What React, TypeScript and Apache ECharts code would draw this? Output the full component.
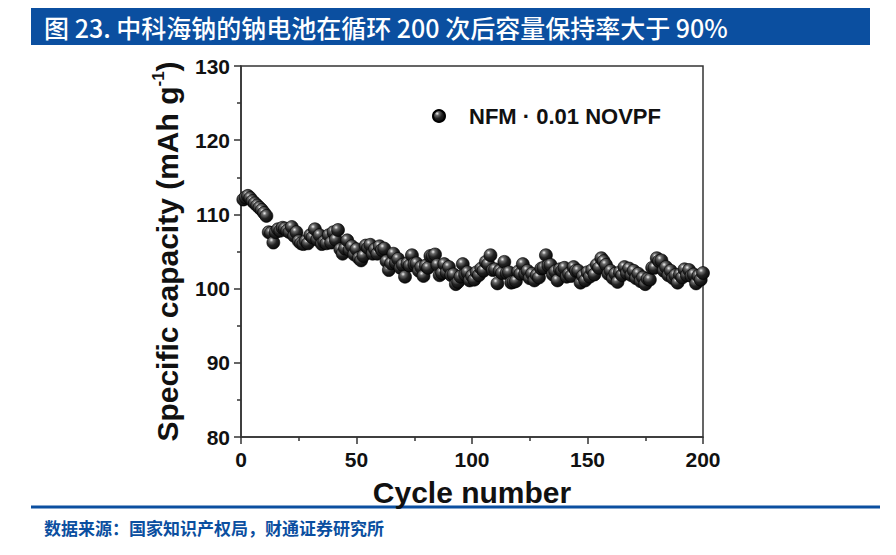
import * as echarts from 'echarts';
import { useEffect, useRef } from 'react';

const titleText = '图 23. 中科海钠的钠电池在循环 200 次后容量保持率大于 90%';
const sourceText = '数据来源：国家知识产权局，财通证券研究所';
const seriesName = 'NFM · 0.01 NOVPF';

// specific capacity (mAh g-1) for cycles 1..200
const capacity = [
  112.0, 112.3, 112.5, 112.2, 111.8, 111.5, 111.2, 110.9, 110.6, 110.2,
  109.8, 107.6, 107.5, 106.2, 107.6, 108.0, 107.8, 108.2, 108.1, 107.8,
  107.6, 108.3, 107.1, 107.6, 106.4, 106.1, 106.0, 106.4, 106.1, 107.2,
  106.9, 108.0, 106.6, 107.2, 106.0, 106.3, 106.1, 107.2, 106.2, 107.6,
  106.6, 107.9, 105.3, 104.7, 105.4, 106.5, 105.2, 105.7, 104.6, 105.3,
  104.1, 103.8, 104.4, 105.8, 105.5, 105.9, 104.7, 105.3, 104.7, 105.7,
  105.2, 105.4, 103.7, 102.5, 103.4, 104.7, 103.5, 104.0, 102.8, 103.2,
  101.6, 103.4, 103.1, 104.5, 103.3, 103.4, 102.4, 102.9, 101.7, 103.1,
  102.8, 104.4, 104.4, 104.6, 103.2, 101.8, 102.1, 103.3, 102.2, 102.9,
  101.8, 101.9, 100.6, 100.9, 101.6, 103.3, 101.9, 102.2, 101.1, 101.7,
  101.2, 102.2, 101.8, 102.7, 102.4, 103.6, 103.3, 104.5, 102.5, 102.6,
  100.7, 102.4, 102.1, 103.6, 102.1, 102.2, 100.8, 100.9, 101.0, 102.3,
  102.0, 103.3, 102.0, 102.4, 101.4, 102.0, 101.1, 101.8, 101.5, 102.7,
  102.8, 104.5, 103.1, 103.2, 101.9, 102.3, 101.1, 102.6, 102.4, 102.8,
  101.6, 102.0, 101.7, 102.9, 102.4, 102.4, 100.8, 101.7, 101.1, 102.2,
  101.6, 102.5, 101.9, 103.2, 102.8, 104.1, 103.7, 103.2, 102.0, 102.4,
  101.4, 102.0, 100.9, 102.2, 101.8, 102.9, 102.1, 102.7, 101.8, 102.4,
  101.4, 102.0, 101.0, 101.5, 100.6, 101.3, 101.2, 102.8, 102.8, 104.1,
  103.7, 103.8, 102.4, 102.9, 101.8, 102.4, 101.4, 101.8, 100.8, 101.9,
  101.5, 102.6, 101.8, 102.5, 101.7, 101.9, 100.7, 101.7, 101.2, 102.1,
];

const BLUE = '#0B4FA0';
const AXIS = '#333';
const FONT = 'Arial, "Liberation Sans", sans-serif';

const ballColor = new echarts.graphic.RadialGradient(0.35, 0.3, 0.75, [
  { offset: 0, color: '#f4f4f4' },
  { offset: 0.22, color: '#6a6a6a' },
  { offset: 0.55, color: '#222' },
  { offset: 1, color: '#080808' },
]);

export default function App() {
  const chartRef = useRef<HTMLDivElement>(null);

  useEffect(() => {
    if (!chartRef.current) return;
    const chart = echarts.init(chartRef.current, undefined, { renderer: 'svg' });

    const option: echarts.EChartsOption = {
      animation: false,
      backgroundColor: '#fff',
      grid: {
        left: 241,
        right: 193,
        top: 66,
        bottom: 118,
        show: true,
        borderColor: AXIS,
        borderWidth: 1.5,
      },
      legend: {
        left: 427,
        top: 100,
        itemWidth: 50,
        itemHeight: 12,
        selectedMode: false,
        data: [{ name: seriesName, icon: 'circle' }],
        textStyle: { fontFamily: FONT, fontSize: 22, fontWeight: 'bold', color: '#111' },
      },
      xAxis: {
        type: 'value',
        min: 0,
        max: 200,
        interval: 50,
        name: 'Cycle number',
        nameLocation: 'middle',
        nameGap: 40,
        nameTextStyle: { fontFamily: FONT, fontSize: 30, fontWeight: 'bold', color: '#111' },
        axisLine: { onZero: false, lineStyle: { color: AXIS, width: 1.5 } },
        axisTick: { length: 7, lineStyle: { color: AXIS, width: 1.5 } },
        minorTick: { show: true, splitNumber: 2, length: 4, lineStyle: { color: AXIS, width: 1.5 } },
        axisLabel: { fontFamily: FONT, fontSize: 21, fontWeight: 'bold', color: '#111', margin: 12 },
        splitLine: { show: false },
      },
      yAxis: {
        type: 'value',
        min: 80,
        max: 130,
        interval: 10,
        name: 'Specific capacity (mAh g{sup|-1})',
        nameLocation: 'middle',
        nameGap: 57,
        nameTextStyle: {
          fontFamily: FONT,
          fontSize: 30,
          fontWeight: 'bold',
          color: '#111',
          lineHeight: 34,
          rich: {
            sup: {
              fontFamily: FONT,
              fontSize: 17,
              fontWeight: 'bold',
              color: '#111',
              verticalAlign: 'top',
              lineHeight: 34,
            },
          },
        },
        axisLine: { lineStyle: { color: AXIS, width: 1.5 } },
        axisTick: { length: 7, lineStyle: { color: AXIS, width: 1.5 } },
        minorTick: { show: true, splitNumber: 2, length: 4, lineStyle: { color: AXIS, width: 1.5 } },
        axisLabel: { fontFamily: FONT, fontSize: 21, fontWeight: 'bold', color: '#111', margin: 11 },
        splitLine: { show: false },
      },
      series: [
        {
          name: seriesName,
          type: 'scatter',
          symbol: 'circle',
          symbolSize: 13,
          data: capacity.map((v, i) => [i + 1, v]),
          itemStyle: { color: ballColor, borderColor: '#000', borderWidth: 0.6, opacity: 1 },
        },
      ],
      graphic: [
        {
          type: 'rect',
          shape: { x: 31, y: 8, width: 839, height: 37 },
          style: { fill: BLUE },
          silent: true,
        },
        {
          type: 'text',
          x: 44,
          y: 27,
          style: {
            text: titleText,
            fill: '#fff',
            font: '500 25px "Noto Sans CJK SC", sans-serif',
            verticalAlign: 'middle',
          },
          silent: true,
        },
        {
          type: 'line',
          shape: { x1: 31, y1: 507, x2: 880, y2: 507 },
          style: { stroke: BLUE, lineWidth: 3 },
          silent: true,
        },
        {
          type: 'text',
          x: 44,
          y: 527,
          style: {
            text: sourceText,
            fill: BLUE,
            font: 'bold 17px "Noto Sans CJK SC", sans-serif',
            verticalAlign: 'middle',
          },
          silent: true,
        },
      ],
    };

    chart.setOption(option);
    return () => {
      chart.dispose();
    };
  }, []);

  return (
    <div
      ref={chartRef}
      style={{ position: 'fixed', left: 0, top: 0, width: 896, height: 555 }}
    />
  );
}
